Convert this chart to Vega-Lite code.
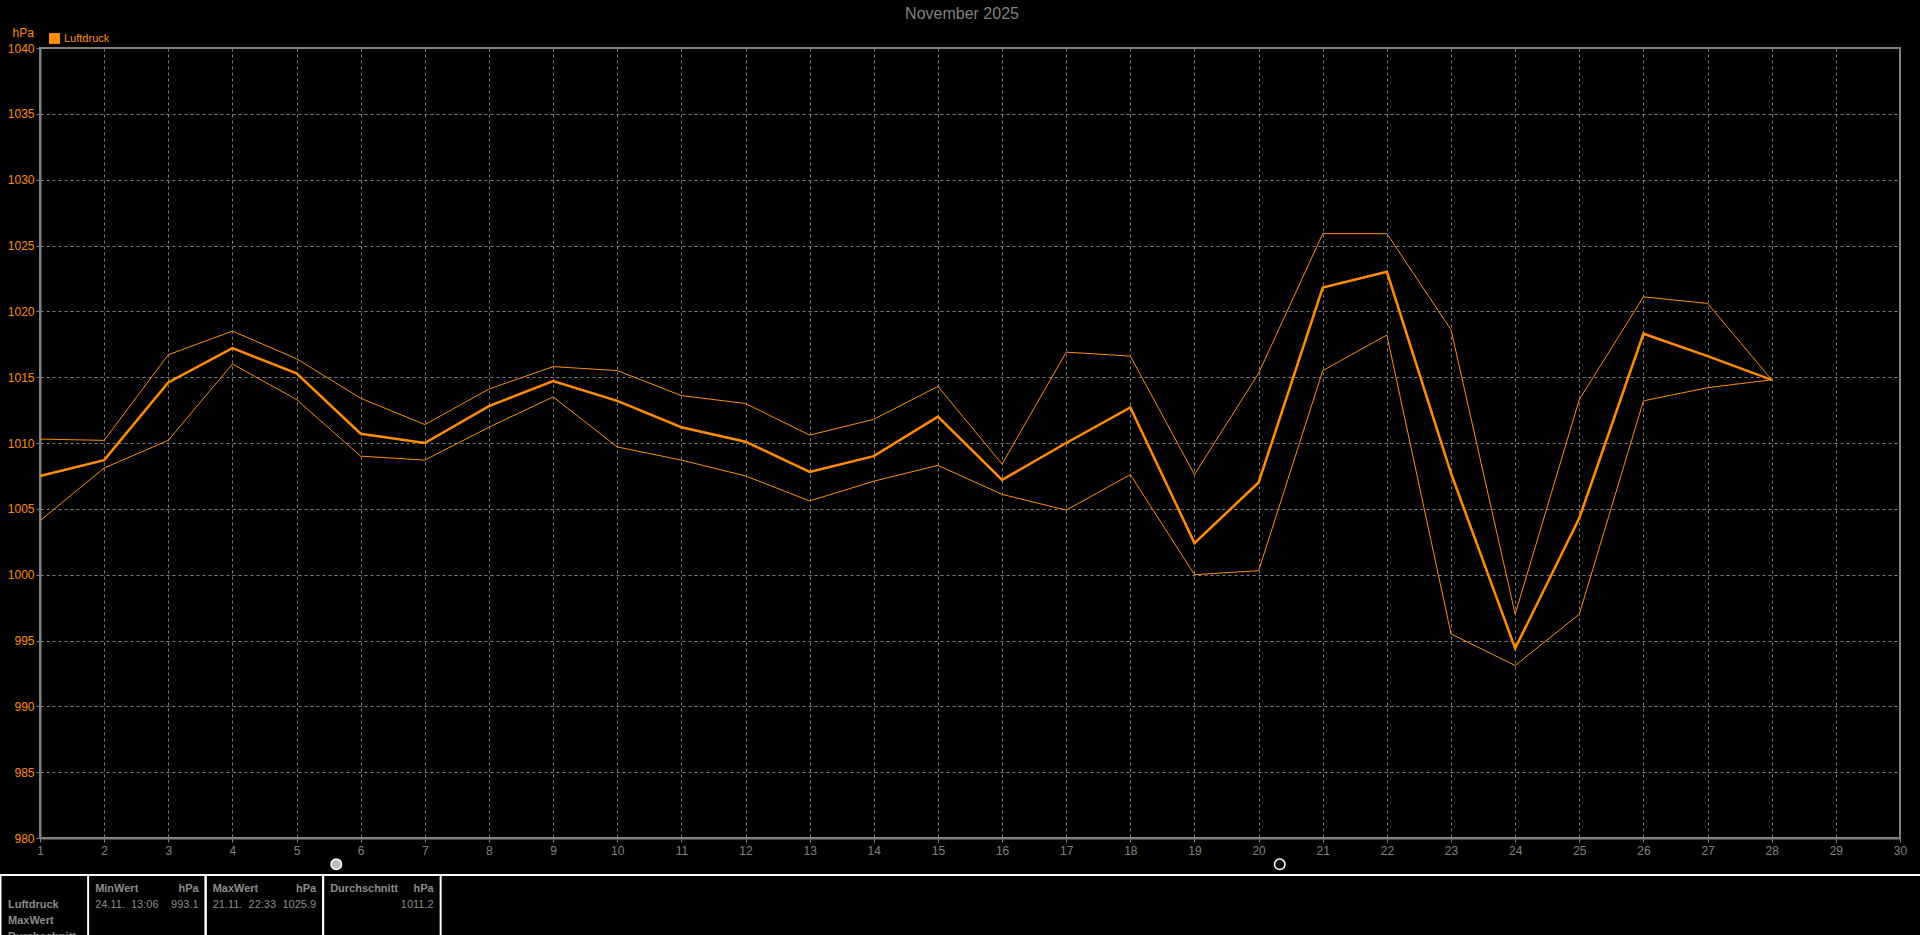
{
  "$schema": "https://vega.github.io/schema/vega-lite/v6.json",
  "autosize": {"type": "none"},
  "padding": {"left": 40, "top": 48, "right": 20, "bottom": 97},
  "width": 1860,
  "height": 790,
  "background": "#000000",
  "title": {"text": "November 2025", "fontSize": 16, "fontWeight": "normal", "color": "#808080", "anchor": "middle", "dx": -8, "offset": 4},
  "config": {
    "font": "Liberation Sans",
    "view": {"stroke": "#808080", "strokeWidth": 2},
    "axis": {"labelFont": "Liberation Sans", "titleFont": "Liberation Sans"}
  },
  "datasets": {
    "luftdruck": [
      {"day": 1, "max": 1010.3, "mittel": 1007.5, "min": 1004.1},
      {"day": 2, "max": 1010.2, "mittel": 1008.7, "min": 1008.1},
      {"day": 3, "max": 1016.7, "mittel": 1014.6, "min": 1010.2},
      {"day": 4, "max": 1018.5, "mittel": 1017.2, "min": 1016.0},
      {"day": 5, "max": 1016.4, "mittel": 1015.3, "min": 1013.3},
      {"day": 6, "max": 1013.4, "mittel": 1010.7, "min": 1009.0},
      {"day": 7, "max": 1011.4, "mittel": 1010.0, "min": 1008.7},
      {"day": 8, "max": 1014.1, "mittel": 1012.8, "min": 1011.2},
      {"day": 9, "max": 1015.8, "mittel": 1014.7, "min": 1013.5},
      {"day": 10, "max": 1015.5, "mittel": 1013.2, "min": 1009.7},
      {"day": 11, "max": 1013.6, "mittel": 1011.2, "min": 1008.7},
      {"day": 12, "max": 1013.0, "mittel": 1010.1, "min": 1007.5},
      {"day": 13, "max": 1010.6, "mittel": 1007.8, "min": 1005.6},
      {"day": 14, "max": 1011.8, "mittel": 1009.0, "min": 1007.1},
      {"day": 15, "max": 1014.3, "mittel": 1012.0, "min": 1008.3},
      {"day": 16, "max": 1008.4, "mittel": 1007.2, "min": 1006.1},
      {"day": 17, "max": 1016.9, "mittel": 1010.0, "min": 1004.9},
      {"day": 18, "max": 1016.6, "mittel": 1012.7, "min": 1007.6},
      {"day": 19, "max": 1007.6, "mittel": 1002.4, "min": 1000.0},
      {"day": 20, "max": 1015.3, "mittel": 1007.0, "min": 1000.3},
      {"day": 21, "max": 1025.9, "mittel": 1021.8, "min": 1015.5},
      {"day": 22, "max": 1025.9, "mittel": 1023.0, "min": 1018.2},
      {"day": 23, "max": 1018.6, "mittel": 1007.7, "min": 995.5},
      {"day": 24, "max": 997.0, "mittel": 994.4, "min": 993.1},
      {"day": 25, "max": 1013.3, "mittel": 1004.3, "min": 997.0},
      {"day": 26, "max": 1021.1, "mittel": 1018.3, "min": 1013.2},
      {"day": 27, "max": 1020.6, "mittel": 1016.6, "min": 1014.2},
      {"day": 28, "max": 1014.8, "mittel": 1014.8, "min": 1014.8}
    ],
    "mond": [
      {"day": 5.62, "phase": "Vollmond"},
      {"day": 20.33, "phase": "Neumond"}
    ],
    "statistik": [
      {"name": "MinWert", "unit": "hPa", "zeit": "24.11.\u00a0 13:06", "wert": "993.1", "von": 0.75, "bis": 1.75},
      {"name": "MaxWert", "unit": "hPa", "zeit": "21.11.\u00a0 22:33", "wert": "1025.9", "von": 1.75, "bis": 2.75},
      {"name": "Durchschnitt", "unit": "hPa", "zeit": "", "wert": "1011.2", "von": 2.75, "bis": 3.75}
    ],
    "zeilen": [
      {"label": "Luftdruck", "zeile": 1},
      {"label": "MaxWert", "zeile": 2},
      {"label": "Durchschnitt", "zeile": 3}
    ]
  },
  "layer": [
    {
      "encoding": {
        "x": {"field": "day", "type": "quantitative",
          "scale": {"domain": [1, 30], "nice": false, "zero": false},
          "axis": {"values": [1,2,3,4,5,6,7,8,9,10,11,12,13,14,15,16,17,18,19,20,21,22,23,24,25,26,27,28,29,30],
            "format": "d", "title": null, "labelColor": "#808080", "labelFontSize": 12, "labelFlush": false, "labelOverlap": false,
            "labelPadding": 3, "tickColor": "#808080", "tickSize": 4, "domainColor": "#808080", "domainWidth": 2,
            "grid": true, "gridColor": "#808080", "gridDash": [3, 3], "gridWidth": 1}},
        "y": {"type": "quantitative",
          "scale": {"domain": [980, 1040], "nice": false, "zero": false},
          "axis": {"values": [980,985,990,995,1000,1005,1010,1015,1020,1025,1030,1035,1040], "format": "d",
            "title": "hPa", "titleAngle": 0, "titleX": -28, "titleY": -12, "titleAlign": "left", "titleBaseline": "alphabetic",
            "titleColor": "#FF8C00", "titleFontSize": 12, "titleFontWeight": "normal",
            "labelColor": "#FF8C00", "labelFontSize": 12, "labelPadding": 2, "tickColor": "#808080", "tickSize": 4,
            "domainColor": "#808080", "domainWidth": 2, "grid": true, "gridColor": "#808080", "gridDash": [3, 3], "gridWidth": 1}}
      },
      "layer": [
        {
          "data": {"name": "luftdruck"},
          "transform": [{"fold": ["max", "min"], "as": ["stat", "wert"]}],
          "mark": {"type": "line", "strokeWidth": 1},
          "encoding": {
            "y": {"field": "wert", "type": "quantitative"},
            "detail": {"field": "stat"},
            "color": {"datum": "Luftdruck", "scale": {"range": ["#FF8C00"]},
              "legend": {"orient": "none", "legendX": 9, "legendY": -15, "title": null, "symbolType": "square", "symbolSize": 100,
                "labelColor": "#FF8C00", "labelFontSize": 11, "labelOffset": 4, "padding": 0,
                "encode": {"symbols": {"update": {"fill": {"value": "#FF8C00"}, "stroke": {"value": "#808080"}, "strokeWidth": {"value": 1}, "opacity": {"value": 1}}}}}}
          }
        },
        {
          "data": {"name": "luftdruck"},
          "mark": {"type": "line", "strokeWidth": 2.5},
          "encoding": {
            "y": {"field": "mittel", "type": "quantitative"},
            "color": {"datum": "Luftdruck"}
          }
        },
        {
          "data": {"values": [{}]},
          "mark": {"type": "rule", "color": "#909090", "strokeWidth": 1},
          "encoding": {"x": {"datum": 28}}
        },
        {
          "data": {"name": "mond"},
          "mark": {"type": "point", "shape": "circle", "size": 110, "filled": true, "stroke": "#ffffff", "strokeWidth": 1.5, "opacity": 1},
          "encoding": {
            "y": {"datum": 978},
            "fill": {"field": "phase", "type": "nominal", "scale": {"domain": ["Vollmond", "Neumond"], "range": ["#bdbdbd", "#000000"]}, "legend": null}
          }
        }
      ]
    },
    {
      "encoding": {
        "x": {"type": "quantitative", "scale": {"domain": [0, 16.34], "range": [-40, 1880], "nice": false, "zero": false}, "axis": null},
        "y": {"type": "quantitative", "scale": {"domain": [0, 4], "range": [827, 891], "nice": false, "zero": false}, "axis": null}
      },
      "layer": [
        {
          "data": {"values": [{}]},
          "mark": {"type": "rule", "color": "#ffffff", "strokeWidth": 2},
          "encoding": {"x": {"datum": 0}, "x2": {"datum": 16.34}, "y": {"datum": 0}}
        },
        {
          "data": {"values": [{}]},
          "mark": {"type": "rule", "color": "#ffffff", "strokeWidth": 2},
          "encoding": {"x": {"datum": 0.004}, "y": {"datum": 0}, "y2": {"datum": 4}}
        },
        {
          "data": {"name": "statistik"},
          "mark": {"type": "rule", "color": "#ffffff", "strokeWidth": 2},
          "encoding": {"x": {"field": "von"}, "y": {"datum": 0}, "y2": {"datum": 4}}
        },
        {
          "data": {"name": "statistik"},
          "mark": {"type": "rule", "color": "#ffffff", "strokeWidth": 2},
          "encoding": {"x": {"field": "bis"}, "y": {"datum": 0}, "y2": {"datum": 4}}
        },
        {
          "data": {"name": "statistik"},
          "mark": {"type": "text", "align": "left", "baseline": "middle", "dx": 7, "dy": 14, "fontSize": 11, "fontWeight": "bold", "color": "#8c8c8c"},
          "encoding": {"x": {"field": "von"}, "y": {"datum": 0}, "text": {"field": "name"}}
        },
        {
          "data": {"name": "statistik"},
          "mark": {"type": "text", "align": "right", "baseline": "middle", "dx": -7, "dy": 14, "fontSize": 11, "fontWeight": "bold", "color": "#8c8c8c"},
          "encoding": {"x": {"field": "bis"}, "y": {"datum": 0}, "text": {"field": "unit"}}
        },
        {
          "data": {"name": "statistik"},
          "mark": {"type": "text", "align": "left", "baseline": "middle", "dx": 7, "dy": 14, "fontSize": 11, "color": "#8c8c8c"},
          "encoding": {"x": {"field": "von"}, "y": {"datum": 1}, "text": {"field": "zeit"}}
        },
        {
          "data": {"name": "statistik"},
          "mark": {"type": "text", "align": "right", "baseline": "middle", "dx": -7, "dy": 14, "fontSize": 11, "color": "#8c8c8c"},
          "encoding": {"x": {"field": "bis"}, "y": {"datum": 1}, "text": {"field": "wert"}}
        },
        {
          "data": {"name": "zeilen"},
          "mark": {"type": "text", "align": "left", "baseline": "middle", "dx": 8, "dy": 14, "fontSize": 11, "fontWeight": "bold", "color": "#8c8c8c"},
          "encoding": {"x": {"datum": 0}, "y": {"field": "zeile", "type": "quantitative"}, "text": {"field": "label"}}
        }
      ]
    }
  ],
  "resolve": {"scale": {"x": "independent", "y": "independent"}, "axis": {"x": "independent", "y": "independent"}}
}
